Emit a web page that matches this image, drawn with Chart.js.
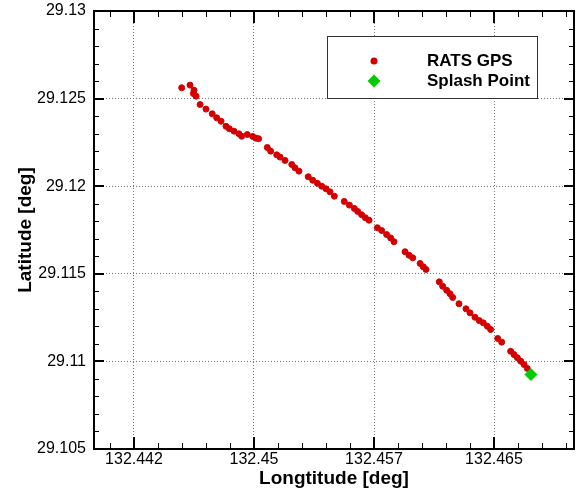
<!DOCTYPE html>
<html>
<head>
<meta charset="utf-8">
<script src="https://cdn.jsdelivr.net/npm/chart.js@4.4.0/dist/chart.umd.min.js"></script>
<style>
  html, body { margin: 0; padding: 0; background: #fff; }
  #wrap { width: 576px; height: 492px; }
</style>
</head>
<body>
<div id="wrap"><canvas id="gpsChart" width="576" height="492"></canvas></div>
<script>
// RATS GPS track
const ratsLon = [
  132.44548, 132.44600, 132.44625, 132.44621, 132.44638, 132.44663, 132.44700, 132.44739, 132.44767, 132.44794,
  132.44825, 132.44846, 132.44875, 132.44906, 132.44923, 132.44958, 132.44992, 132.45013, 132.45029, 132.45083,
  132.45104, 132.45142, 132.45163, 132.45194, 132.45236, 132.45256, 132.45281, 132.45339, 132.45367, 132.45396,
  132.45423, 132.45450, 132.45475, 132.45502, 132.45564, 132.45596, 132.45627, 132.45648, 132.45673, 132.45696,
  132.45719, 132.45771, 132.45798, 132.45829, 132.45854, 132.45875, 132.45944, 132.45969, 132.45992, 132.46038,
  132.46058, 132.46075, 132.46158, 132.46179, 132.46204, 132.46225, 132.46242, 132.46281, 132.46325, 132.46350,
  132.46381, 132.46408, 132.46433, 132.46458, 132.46479, 132.46523, 132.46548, 132.46604, 132.46625, 132.46646,
  132.46667, 132.46688, 132.46708
];
const ratsLat = [
  29.12562, 29.12577, 29.12548, 29.12529, 29.12514, 29.12466, 29.12440, 29.12413, 29.12390, 29.12371,
  29.12342, 29.12328, 29.12314, 29.12299, 29.12285, 29.12295, 29.12284, 29.12274, 29.12271, 29.12221,
  29.12200, 29.12179, 29.12166, 29.12147, 29.12124, 29.12105, 29.12086, 29.12054, 29.12034, 29.12017,
  29.12000, 29.11985, 29.11968, 29.11943, 29.11913, 29.11892, 29.11873, 29.11856, 29.11837, 29.11820,
  29.11806, 29.11763, 29.11747, 29.11724, 29.11705, 29.11683, 29.11626, 29.11606, 29.11591, 29.11559,
  29.11540, 29.11525, 29.11454, 29.11429, 29.11406, 29.11386, 29.11365, 29.11329, 29.11300, 29.11277,
  29.11252, 29.11233, 29.11220, 29.11201, 29.11182, 29.11131, 29.11110, 29.11058, 29.11039, 29.11021,
  29.11001, 29.10982, 29.10960
];
const splashLon = [132.46731];
const splashLat = [29.10925];

const xTickValues = [132.4425, 132.45, 132.4575, 132.465];
const xTickLabels = ["132.442", "132.45", "132.457", "132.465"];
const yTickValues = [29.105, 29.11, 29.115, 29.12, 29.125, 29.13];
const yTickLabels = ["29.105", "29.11", "29.115", "29.12", "29.125", "29.13"];

const RED = "#d40000";
const GREEN = "#00cc00";
const FONT = "'Liberation Sans', Arial, sans-serif";

Chart.defaults.font.family = FONT;
Chart.defaults.color = "#000";

const toPoints = (xs, ys) => xs.map((x, i) => ({ x: x, y: ys[i] }));

// frame with inward ticks on all four sides
const framePlugin = {
  id: "frame",
  afterDatasetsDraw(chart) {
    const { ctx, chartArea: a, scales } = chart;
    const x = scales.x;
    const y = scales.y;
    ctx.save();
    ctx.strokeStyle = "#000";

    const line = (x1, y1, x2, y2, w) => {
      ctx.lineWidth = w;
      ctx.beginPath();
      ctx.moveTo(x1, y1);
      ctx.lineTo(x2, y2);
      ctx.stroke();
    };

    const xStep = (xTickValues[1] - xTickValues[0]) / 5;
    for (let v = xTickValues[0] - xStep * 5; v < x.max + 1e-9; v += xStep) {
      if (v < x.min - 1e-9) continue;
      const px = Math.round(x.getPixelForValue(v)) + 0.5;
      line(px, a.bottom, px, a.bottom - 6, 1);
      line(px, a.top, px, a.top + 6, 1);
    }
    xTickValues.forEach((v) => {
      const px = Math.round(x.getPixelForValue(v));
      line(px, a.bottom, px, a.bottom - 12, 2);
      line(px, a.top, px, a.top + 12, 2);
    });

    const yStep = (yTickValues[1] - yTickValues[0]) / 5;
    for (let v = y.min; v < y.max + 1e-9; v += yStep) {
      const py = Math.round(y.getPixelForValue(v)) + 0.5;
      line(a.left, py, a.left + 5, py, 1);
      line(a.right, py, a.right - 5, py, 1);
    }
    yTickValues.forEach((v) => {
      const py = Math.round(y.getPixelForValue(v));
      line(a.left, py, a.left + 10, py, 2);
      line(a.right, py, a.right - 10, py, 2);
    });

    ctx.lineWidth = 2;
    ctx.strokeRect(a.left, a.top, a.right - a.left, a.bottom - a.top);
    ctx.restore();
  },
  afterDraw(chart) {
    // boxed legend inside the plot, top right
    const { ctx, chartArea: a } = chart;
    const left = a.right - 247;
    const top = a.top + 25;
    ctx.save();
    ctx.fillStyle = "#fff";
    ctx.fillRect(left, top, 210, 62);
    ctx.strokeStyle = "#333";
    ctx.lineWidth = 1;
    ctx.strokeRect(left + 0.5, top + 0.5, 210, 62);

    const mx = left + 47;
    ctx.fillStyle = RED;
    ctx.beginPath();
    ctx.arc(mx, top + 25, 3.5, 0, Math.PI * 2);
    ctx.fill();

    ctx.fillStyle = GREEN;
    ctx.beginPath();
    ctx.moveTo(mx, top + 45 - 6.5);
    ctx.lineTo(mx + 6.5, top + 45);
    ctx.lineTo(mx, top + 45 + 6.5);
    ctx.lineTo(mx - 6.5, top + 45);
    ctx.closePath();
    ctx.fill();

    ctx.fillStyle = "#000";
    ctx.font = "bold 17px " + FONT;
    ctx.textAlign = "left";
    ctx.textBaseline = "middle";
    ctx.fillText("RATS GPS", left + 100, top + 25);
    ctx.fillText("Splash Point", left + 100, top + 45);
    ctx.restore();
  }
};

new Chart(document.getElementById("gpsChart"), {
  type: "scatter",
  data: {
    datasets: [
      {
        label: "RATS GPS",
        data: toPoints(ratsLon, ratsLat),
        pointStyle: "circle",
        pointRadius: 3,
        pointBorderWidth: 1,
        backgroundColor: RED,
        borderColor: RED,
        order: 1,
      },
      {
        label: "Splash Point",
        data: toPoints(splashLon, splashLat),
        pointStyle: "rectRot",
        pointRadius: 6,
        pointBorderWidth: 1,
        backgroundColor: GREEN,
        borderColor: GREEN,
        order: 0,
      },
    ],
  },
  options: {
    responsive: false,
    animation: false,
    devicePixelRatio: 1,
    layout: { autoPadding: false, padding: { top: 11, right: 2, left: 0, bottom: 0 } },
    plugins: {
      legend: { display: false },
      tooltip: { enabled: false },
    },
    scales: {
      x: {
        type: "linear",
        min: 132.44,
        max: 132.47,
        afterBuildTicks: (scale) => {
          scale.ticks = xTickValues.map((v) => ({ value: v }));
        },
        afterFit: (scale) => {
          scale.height = 43;
          scale.paddingLeft = 0;
          scale.paddingRight = 0;
        },
        ticks: {
          padding: 1,
          font: { size: 16 },
          color: "#000",
          callback: (value, index) => xTickLabels[index],
        },
        grid: { drawTicks: false, color: "#777", lineWidth: 1 },
        border: { display: false, dash: [1, 2] },
        title: {
          display: true,
          text: "Longtitude [deg]",
          font: { size: 19, weight: "bold" },
          color: "#000",
          padding: { top: 0, bottom: 2 },
        },
      },
      y: {
        type: "linear",
        min: 29.105,
        max: 29.13,
        afterBuildTicks: (scale) => {
          scale.ticks = yTickValues.map((v) => ({ value: v }));
        },
        afterFit: (scale) => {
          scale.width = 94;
          scale.paddingTop = 0;
          scale.paddingBottom = 0;
        },
        ticks: {
          padding: 8,
          font: { size: 16 },
          color: "#000",
          callback: (value, index) => yTickLabels[index],
        },
        grid: { drawTicks: false, color: "#777", lineWidth: 1 },
        border: { display: false, dash: [1, 2] },
        title: {
          display: true,
          text: "Latitude [deg]",
          font: { size: 19, weight: "bold" },
          color: "#000",
          padding: { top: 14, bottom: 0 },
        },
      },
    },
  },
  plugins: [framePlugin],
});
</script>
</body>
</html>
